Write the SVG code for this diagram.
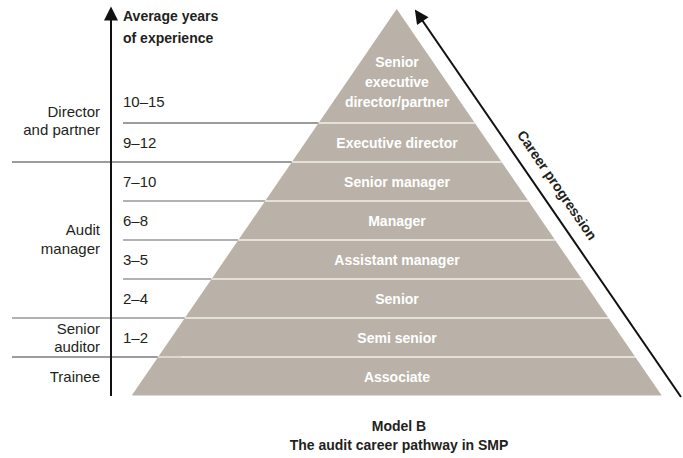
<svg xmlns="http://www.w3.org/2000/svg" width="683" height="458" viewBox="0 0 683 458">
<style>
text{font-family:"Liberation Sans",Arial,sans-serif;fill:#231f20}
.lbl{font-size:15px;text-anchor:end}
.num{font-size:15px}
.hd{font-size:14px;font-weight:bold}
.pl{font-size:14px;font-weight:bold;fill:#ffffff;text-anchor:middle}
.cap{font-size:14px;font-weight:bold;text-anchor:middle}
.rule{stroke:#3a3a3a;stroke-width:1.2;fill:none}
.rule2{stroke:#666;stroke-width:1.2;fill:none}
.sep{stroke:#f2efeb;stroke-width:1.6}
.ax{stroke:#111;stroke-width:2;fill:none}
</style>
<defs>
<clipPath id="pyrClip"><polygon points="396.7,9 131.7,395.5 661.7,395.5"/></clipPath>
<marker id="ah2" viewBox="0 0 10 10" refX="1" refY="5" markerWidth="16" markerHeight="14" markerUnits="userSpaceOnUse" orient="auto-start-reverse">
<path d="M0,0 L10,5 L0,10 z" fill="#111"/>
</marker>
</defs>

<g id="pyramid">
<polygon points="396.7,9 131.7,395.5 661.7,395.5" fill="#bab2a8"/>
<g clip-path="url(#pyrClip)">
<line class="sep" x1="100" y1="123" x2="700" y2="123"/>
<line class="sep" x1="100" y1="162" x2="700" y2="162"/>
<line class="sep" x1="100" y1="201" x2="700" y2="201"/>
<line class="sep" x1="100" y1="240" x2="700" y2="240"/>
<line class="sep" x1="100" y1="279" x2="700" y2="279"/>
<line class="sep" x1="100" y1="318" x2="700" y2="318"/>
<line class="sep" x1="100" y1="357" x2="700" y2="357"/>
<line x1="157.8" y1="357" x2="181" y2="357" stroke="#d8d3cd" stroke-width="1.6"/>
</g>
</g>

<g id="connectors">
<line class="rule" x1="123" y1="123" x2="318.4" y2="123"/>
<line class="rule" x1="12" y1="162" x2="291.7" y2="162"/>
<line class="rule2" x1="123" y1="201" x2="264.9" y2="201"/>
<line class="rule2" x1="123" y1="240" x2="238.1" y2="240"/>
<line class="rule2" x1="123" y1="279" x2="211.3" y2="279"/>
<line class="rule2" x1="12" y1="318" x2="184.6" y2="318"/>
<line class="rule" x1="12" y1="357" x2="157.8" y2="357"/>
<line id="axis" class="ax" x1="111" y1="396" x2="111" y2="19" marker-end="url(#ah2)"/>
<line id="career-arrow" class="ax" x1="681" y1="397" x2="422" y2="20" stroke-width="1.8" marker-end="url(#ah2)"/>
</g>

<g id="axis-title">
<text class="hd" x="123" y="21">Average years</text>
<text class="hd" x="123" y="43">of experience</text>
</g>

<g id="group-director">
<text class="lbl" x="100" y="117">Director</text>
<text class="lbl" x="100" y="135">and partner</text>
</g>
<g id="group-audit-manager">
<text class="lbl" x="100" y="235">Audit</text>
<text class="lbl" x="100" y="254">manager</text>
</g>
<g id="group-senior-auditor">
<text class="lbl" x="100" y="334">Senior</text>
<text class="lbl" x="100" y="352">auditor</text>
</g>
<g id="group-trainee">
<text class="lbl" x="100" y="382">Trainee</text>
</g>

<g id="level-senior-executive-director">
<text class="num" x="123" y="107">10–15</text>
<text class="pl" x="397" y="67">Senior</text>
<text class="pl" x="397" y="87">executive</text>
<text class="pl" x="397" y="107">director/partner</text>
</g>
<g id="level-executive-director">
<text class="num" x="123" y="148">9–12</text>
<text class="pl" x="397" y="148">Executive director</text>
</g>
<g id="level-senior-manager">
<text class="num" x="123" y="187">7–10</text>
<text class="pl" x="397" y="187">Senior manager</text>
</g>
<g id="level-manager">
<text class="num" x="123" y="226">6–8</text>
<text class="pl" x="397" y="226">Manager</text>
</g>
<g id="level-assistant-manager">
<text class="num" x="123" y="265">3–5</text>
<text class="pl" x="397" y="265">Assistant manager</text>
</g>
<g id="level-senior">
<text class="num" x="123" y="304">2–4</text>
<text class="pl" x="397" y="304">Senior</text>
</g>
<g id="level-semi-senior">
<text class="num" x="123" y="343">1–2</text>
<text class="pl" x="397" y="343">Semi senior</text>
</g>
<g id="level-associate">
<text class="pl" x="397" y="382">Associate</text>
</g>

<g id="career-label">
<text class="hd" text-anchor="middle" transform="translate(553,188) rotate(55.5)">Career progression</text>
</g>

<g id="caption">
<text class="cap" x="399" y="431">Model B</text>
<text class="cap" x="399" y="450">The audit career pathway in SMP</text>
</g>
</svg>
